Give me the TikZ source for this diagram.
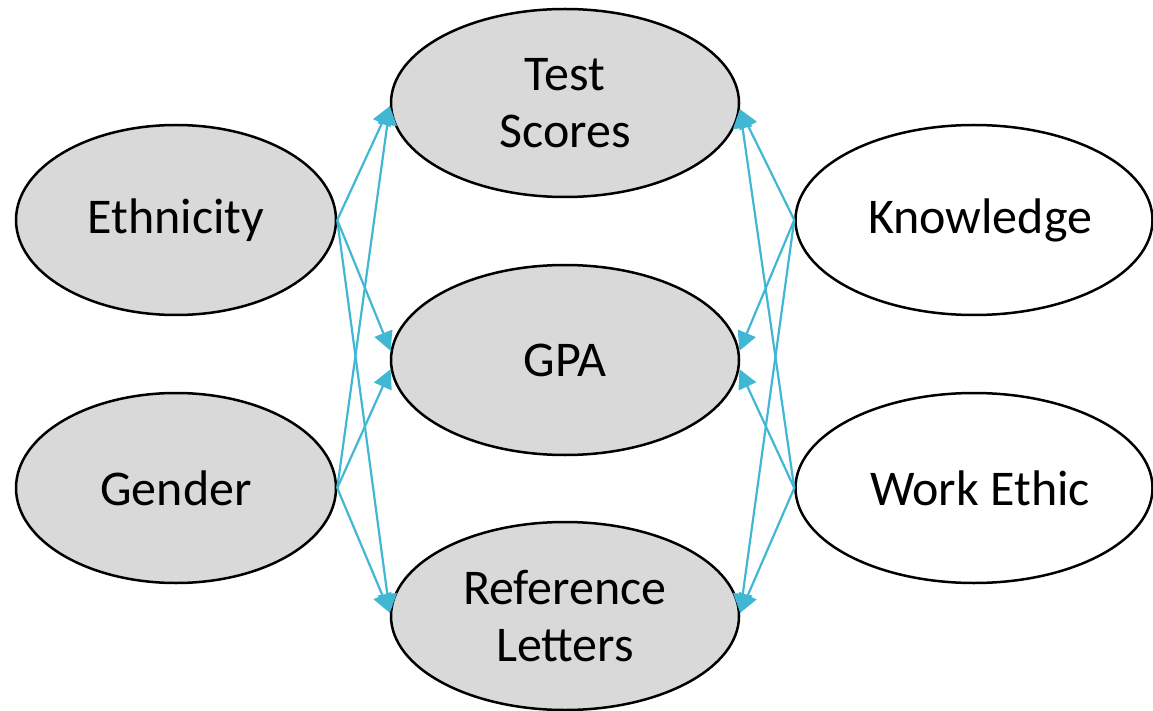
\documentclass[tikz,border=0pt]{standalone}
\usepackage{fontspec}
\setmainfont{Carlito}
\usetikzlibrary{shapes.geometric,arrows.meta}
\definecolor{linkblue}{RGB}{65,183,211}
\definecolor{varfill}{RGB}{217,217,217}
\begin{document}
\begin{tikzpicture}[x=1pt,y=-1pt,
  var/.style={ellipse,draw=black,line width=2.5pt,inner sep=0pt,align=center,
    font=\fontsize{50}{57}\selectfont},
  observed/.style={var,fill=varfill},
  latent/.style={var,fill=white},
  link/.style={draw=linkblue,line width=2.2pt,
    -{Triangle[length=19pt,width=19pt]}}]
\useasboundingbox (0,0) rectangle (1153,711);
% exogenous demographic variables
\node[observed,minimum width=320pt,minimum height=190pt] (eth) at (176,220) {Ethnicity};
\node[observed,minimum width=320pt,minimum height=190pt] (gen) at (176,488) {Gender};
% measured outcomes
\node[observed,minimum width=348pt,minimum height=188pt] (ts) at (565,103) {Test\\Scores};
\node[observed,minimum width=348pt,minimum height=190pt] (gpa) at (565,360) {GPA};
\node[observed,minimum width=348pt,minimum height=188pt] (ref) at (565,616) {Reference\\Letters};
% latent traits
\node[latent,minimum width=357pt,minimum height=190pt] (know) at (974,220) {\hspace*{12pt}Knowledge};
\node[latent,minimum width=357pt,minimum height=190pt] (work) at (974,488) {\hspace*{12pt}Work Ethic};
% paths
\draw[link] (eth.east) -- (ts.181);
\draw[link] (eth.east) -- (gpa.177);
\draw[link] (eth.east) -- (ref.179);
\draw[link] (gen.east) -- (ts.181);
\draw[link] (gen.east) -- (gpa.183);
\draw[link] (gen.east) -- (ref.179);
\draw[link] (know.west) -- (ts.358);
\draw[link] (know.west) -- (gpa.3);
\draw[link] (know.west) -- (ref.1);
\draw[link] (work.west) -- (ts.358);
\draw[link] (work.west) -- (gpa.357);
\draw[link] (work.west) -- (ref.1);
\end{tikzpicture}
\end{document}
